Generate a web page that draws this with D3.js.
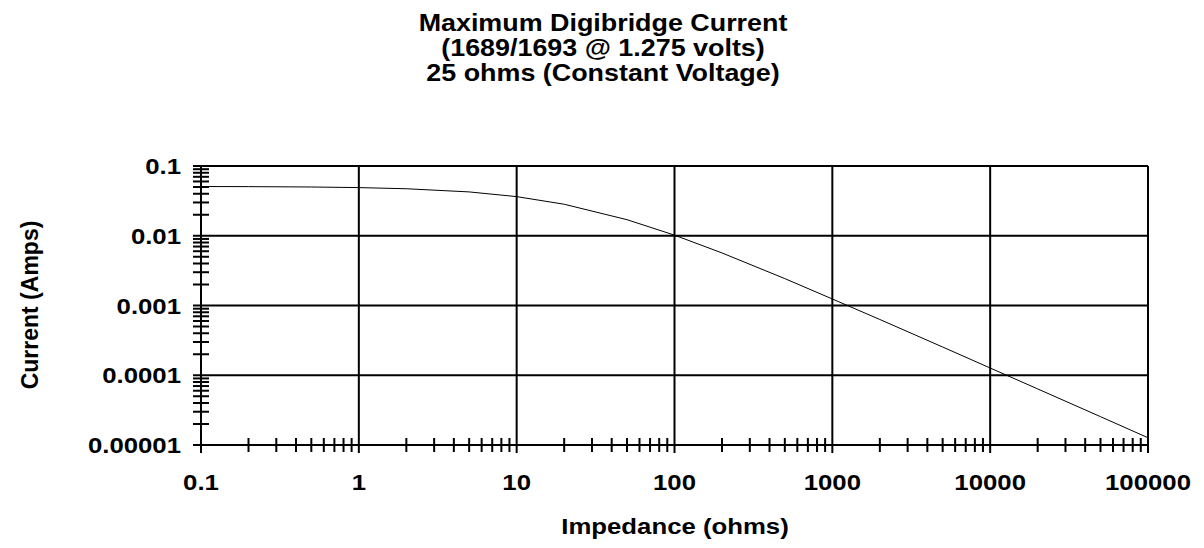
<!DOCTYPE html>
<html>
<head>
<meta charset="utf-8">
<script src="https://cdn.jsdelivr.net/npm/d3@7/dist/d3.min.js"></script>
<style>
  body { margin: 0; background: #fff; }
  text { font-family: "Liberation Sans", Arial, sans-serif; font-weight: bold; fill: #000; }
</style>
</head>
<body>
<svg id="chart" width="1204" height="548"></svg>
<script>
// impedance (ohms) and current (amps)
var impedance = [0.1, 0.2, 0.5, 1, 2, 5, 10, 20, 50, 100, 200, 500, 1000, 2000, 5000, 10000, 20000, 50000, 100000];
var current = [0.0508, 0.0506, 0.0500, 0.0490, 0.0472, 0.0425, 0.0364, 0.0283, 0.0170, 0.0102, 0.00567, 0.00243,
  0.00124, 0.00063, 0.000254, 0.000127, 0.0000637, 0.0000255, 0.0000127];
var xTicks = [0.1, 1, 10, 100, 1000, 10000, 100000];
var xTickLabels = ["0.1", "1", "10", "100", "1000", "10000", "100000"];
var yTicks = [0.1, 0.01, 0.001, 0.0001, 0.00001];
var yTickLabels = ["0.1", "0.01", "0.001", "0.0001", "0.00001"];
var titleLines = ["Maximum Digibridge Current", "(1689/1693 @ 1.275 volts)", "25 ohms (Constant Voltage)"];

var plotLeft = 201, plotRight = 1148, plotTop = 166, plotBottom = 445;
var stretch = 1.12; // the text in the picture is a bit wider than plain Arial
var svg = d3.select("#chart");

var x = d3.scaleLog().domain([0.1, 100000]).range([plotLeft, plotRight]);
var y = d3.scaleLog().domain([0.00001, 0.1]).range([plotBottom, plotTop]);

function place(px, py) {
  return "translate(" + px + "," + py + ") scale(" + stretch + ",1)";
}

// title
svg.selectAll("text.title").data(titleLines).enter().append("text")
  .attr("class", "title")
  .attr("transform", function (d, i) { return place(603, 30.5 + i * 25); })
  .attr("text-anchor", "middle")
  .style("font-size", "24px")
  .text(function (d) { return d; });

// minor ticks (2..9 of each decade)
var xMinor = [], yMinor = [];
for (var e = -1; e < 5; e++) {
  for (var k = 2; k < 10; k++) xMinor.push(k * Math.pow(10, e));
}
for (var e2 = -5; e2 < -1; e2++) {
  for (var k2 = 2; k2 < 10; k2++) yMinor.push(k2 * Math.pow(10, e2));
}

var g = svg.append("g");

g.selectAll("line.xminor").data(xMinor).enter().append("line")
  .attr("x1", function (d) { return x(d); }).attr("x2", function (d) { return x(d); })
  .attr("y1", plotBottom - 7).attr("y2", plotBottom + 7)
  .attr("stroke", "#000").attr("stroke-width", 2);

g.selectAll("line.yminor").data(yMinor).enter().append("line")
  .attr("y1", function (d) { return y(d); }).attr("y2", function (d) { return y(d); })
  .attr("x1", plotLeft - 8).attr("x2", plotLeft + 8)
  .attr("stroke", "#000").attr("stroke-width", 2);

// gridlines
g.selectAll("line.xgrid").data(xTicks).enter().append("line")
  .attr("x1", function (d) { return x(d); }).attr("x2", function (d) { return x(d); })
  .attr("y1", plotTop).attr("y2", plotBottom + 8)
  .attr("stroke", "#000").attr("stroke-width", 2);

g.selectAll("line.ygrid").data(yTicks).enter().append("line")
  .attr("y1", function (d) { return y(d); }).attr("y2", function (d) { return y(d); })
  .attr("x1", plotLeft - 8).attr("x2", plotRight)
  .attr("stroke", "#000").attr("stroke-width", 2);

// tick labels
g.selectAll("text.xlab").data(xTicks).enter().append("text")
  .attr("transform", function (d) { return place(x(d), 490); })
  .attr("text-anchor", "middle")
  .style("font-size", "23px")
  .text(function (d, i) { return xTickLabels[i]; });

g.selectAll("text.ylab").data(yTicks).enter().append("text")
  .attr("transform", function (d) { return place(181, y(d) + 8); })
  .attr("text-anchor", "end")
  .style("font-size", "23px")
  .text(function (d, i) { return yTickLabels[i]; });

// axis titles
svg.append("text")
  .attr("transform", place(675, 534))
  .attr("text-anchor", "middle")
  .style("font-size", "23px")
  .text("Impedance (ohms)");

svg.append("text")
  .attr("transform", "translate(38,305) rotate(-90)")
  .attr("text-anchor", "middle")
  .style("font-size", "23px")
  .text("Current (Amps)");

// data line
var line = d3.line()
  .x(function (d, i) { return x(impedance[i]); })
  .y(function (d) { return y(d); });

svg.append("path")
  .datum(current)
  .attr("d", line)
  .attr("fill", "none")
  .attr("stroke", "#000")
  .attr("stroke-width", 1);
</script>
</body>
</html>
